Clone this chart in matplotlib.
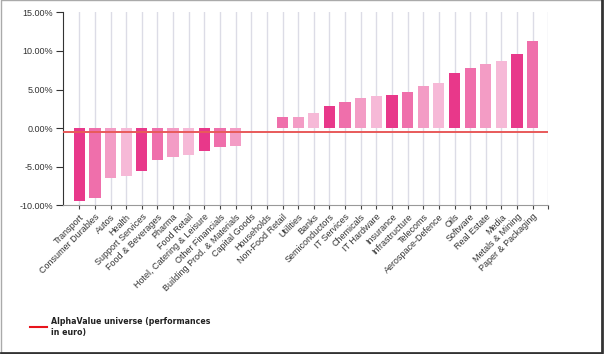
import numpy as np
import matplotlib.pyplot as plt
from matplotlib.lines import Line2D
from matplotlib.ticker import FuncFormatter

sectors = ['Transport', 'Consumer Durables', 'Autos', 'Health', 'Support Services',
           'Food & Beverages', 'Pharma', 'Food Retail', 'Hotel, Catering & Leisure',
           'Other Financials', 'Building Prod. & Materials', 'Capital Goods', 'Households',
           'Non-Food Retail', 'Utilities', 'Banks', 'Semiconductors', 'IT Services',
           'Chemicals', 'IT Hardware', 'Insurance', 'Infrastructure', 'Telecoms',
           'Aerospace-Defence', 'Oils', 'Software', 'Real Estate', 'Media',
           'Metals & Mining', 'Paper & Packaging']
perf = [-9.4, -9.07, -6.52, -6.18, -5.53, -4.1, -3.71, -3.54, -2.98, -2.42, -2.29,
        0.0, 0.0, 1.38, 1.47, 1.9, 2.85, 3.37, 3.93, 4.23, 4.36, 4.7, 5.48, 5.83,
        7.17, 7.82, 8.29, 8.72, 9.63, 11.27]
universe = -0.48
legend_label = 'AlphaValue universe (performances\nin euro)'

palette = ['#e8388a', '#ef6fab', '#f39cc5', '#f6b9d7']
colors = [palette[i % 4] for i in range(len(sectors))]

fig = plt.figure(figsize=(6.04, 3.54), dpi=100)
ax = fig.add_axes([0.1043, 0.42, 0.8035, 0.545])

x = np.arange(len(sectors))
ax.bar(x, perf, width=0.72, color=colors, zorder=2)
ticks = np.arange(len(sectors) + 1)
for t in ticks:
    ax.axvline(t, color='#dcdce6', lw=1, zorder=1)
ax.axhline(universe, color='#e85a5a', lw=1.4, zorder=3)

ax.set_xlim(-1.04, len(sectors))
ax.set_ylim(-10, 15)
ax.set_yticks([-10, -5, 0, 5, 10, 15])
ax.yaxis.set_major_formatter(FuncFormatter(lambda v, p: f'{v:.2f}%'))
ax.set_xticks(ticks)
ax.set_xticklabels(sectors + [''], rotation=45, ha='right', rotation_mode='anchor',
                   fontsize=6.5, family='Liberation Sans', color='#333333')
for lab in ax.get_yticklabels():
    lab.set_fontsize(6.5)
    lab.set_family('Liberation Sans')
    lab.set_color('#333333')
ax.tick_params(axis='y', length=5, width=0.8, color='#333333', pad=2)
ax.tick_params(axis='x', length=3, width=0.8, color='#444444', pad=2)
for s in ['top', 'right']:
    ax.spines[s].set_visible(False)
ax.spines['left'].set_color('#333333')
ax.spines['left'].set_linewidth(0.8)
ax.spines['bottom'].set_color('#999999')
ax.spines['bottom'].set_linewidth(0.8)

fig.add_artist(Line2D([0.0497, 0.078], [0.077, 0.077], color='#e8141c', lw=1.5))
fig.text(0.0845, 0.077, legend_label, fontsize=5.7, fontweight='bold', color='#222222',
         va='center', ha='left', family='DejaVu Sans', linespacing=1.35)

# image frame
fig.add_artist(Line2D([0.001, 0.001, 0.997], [0.003, 0.999, 0.999], color='#aaaaaa', lw=1))
fig.add_artist(Line2D([0.997, 0.997, 0.001], [0.999, 0.003, 0.003], color='#333333', lw=2))

plt.savefig('out.png', dpi=100)
